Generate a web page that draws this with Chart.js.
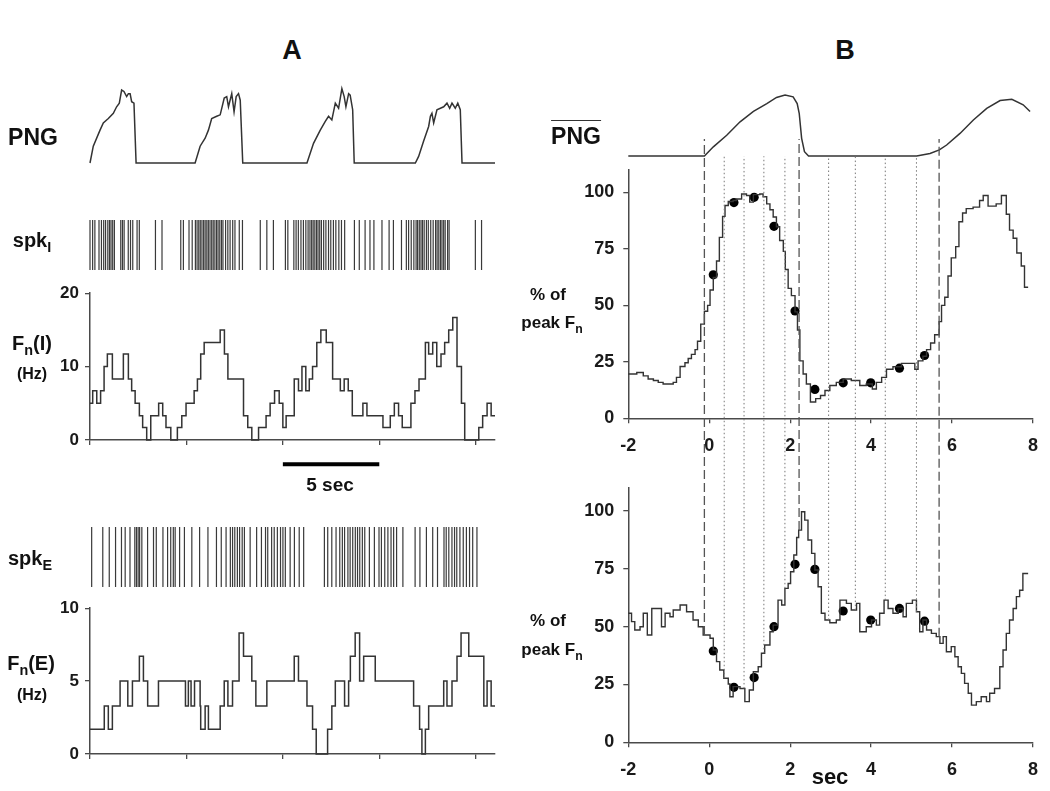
<!DOCTYPE html>
<html>
<head>
<meta charset="utf-8">
<script src="https://cdn.jsdelivr.net/npm/chart.js@4.4.1/dist/chart.umd.min.js"></script>
<style>
    body { margin: 0; background: #fff; }
    #fig { position: relative; width: 1050px; height: 791px; overflow: hidden;
           font-family: "Liberation Sans", Arial, sans-serif; font-weight: bold; color: #111; }
    canvas { position: absolute; }
    .lbl { position: absolute; white-space: nowrap; line-height: 1; transform: translate(-50%, -50%); }
    .sub { font-size: 72%; position: relative; top: 0.38em; }
    .ov { position: absolute; white-space: nowrap; line-height: 1; transform: translateX(-50%);
          border-top: 1.3px solid #333; padding-top: 4px; }
</style>
</head>
<body>
<div id="fig">
    <canvas id="aPng" width="510" height="95" style="left:0;top:80px"></canvas>
    <canvas id="aSpkI" width="510" height="80" style="left:0;top:205px"></canvas>
    <canvas id="aFnI" width="510" height="203" style="left:0;top:277px"></canvas>
    <canvas id="aSpkE" width="510" height="80" style="left:0;top:517px"></canvas>
    <canvas id="aFnE" width="510" height="192" style="left:0;top:592px"></canvas>
    <canvas id="bPng" width="510" height="76" style="left:540px;top:85px"></canvas>
    <canvas id="bUp" width="510" height="310" style="left:540px;top:150px"></canvas>
    <canvas id="bLow" width="510" height="691" style="left:540px;top:100px"></canvas>

    <div class="lbl" style="left:292px;top:50px;font-size:27px">A</div>
    <div class="lbl" style="left:845px;top:50px;font-size:27px">B</div>
    <div class="lbl" style="left:33px;top:137px;font-size:23px">PNG</div>
    <div class="lbl" style="left:32px;top:240px;font-size:20px">spk<span class="sub">I</span></div>
    <div class="lbl" style="left:32px;top:343px;font-size:20px">F<span class="sub">n</span>(I)</div>
    <div class="lbl" style="left:32px;top:374px;font-size:16px">(Hz)</div>
    <div class="lbl" style="left:330px;top:484px;font-size:19px">5 sec</div>
    <div class="lbl" style="left:30px;top:558px;font-size:20px">spk<span class="sub">E</span></div>
    <div class="lbl" style="left:31px;top:663px;font-size:20px">F<span class="sub">n</span>(E)</div>
    <div class="lbl" style="left:32px;top:695px;font-size:16px">(Hz)</div>
    <div class="ov" style="left:576px;top:120px;font-size:23px">PNG</div>
    <div class="lbl" style="left:548px;top:294px;font-size:17px">% of</div>
    <div class="lbl" style="left:552px;top:322px;font-size:17px">peak F<span class="sub">n</span></div>
    <div class="lbl" style="left:548px;top:620px;font-size:17px">% of</div>
    <div class="lbl" style="left:552px;top:649px;font-size:17px">peak F<span class="sub">n</span></div>
    <div class="lbl" style="left:830px;top:777px;font-size:22px">sec</div>
</div>

<script>
// ---- panel A: time in seconds, rates in Hz ----
const pngA_t = [0, 0.17, 0.52, 0.69, 0.95, 1.21, 1.38, 1.52, 1.64, 1.76, 1.90, 1.99, 2.08, 2.16, 2.28, 2.39,
    5.45, 5.71, 5.97, 6.14, 6.31, 6.57, 6.75, 6.96, 7.09, 7.18, 7.35, 7.47, 7.58, 7.70, 7.79, 7.92,
    11.25, 11.59, 11.94, 12.20, 12.37, 12.54, 12.72, 12.89, 13.06, 13.18, 13.27, 13.41, 13.49, 13.62, 13.70,
    16.87, 17.04, 17.30, 17.56, 17.65, 17.73, 17.82, 17.99, 18.17, 18.34, 18.51, 18.65, 18.77, 18.94, 19.07, 19.20, 19.29, 21.0];
const pngA_v = [0, 0.23, 0.45, 0.55, 0.61, 0.68, 0.77, 0.82, 1.0, 0.98, 0.91, 0.95, 0.95, 0.84, 0.82, 0,
    0, 0.23, 0.34, 0.45, 0.61, 0.64, 0.66, 0.89, 0.91, 0.77, 0.95, 0.70, 0.91, 0.95, 0.86, 0,
    0, 0.27, 0.45, 0.57, 0.64, 0.59, 0.82, 0.75, 1.02, 0.91, 0.77, 0.95, 0.93, 0.73, 0,
    0, 0.09, 0.30, 0.50, 0.64, 0.68, 0.55, 0.73, 0.75, 0.77, 0.82, 0.75, 0.82, 0.75, 0.82, 0.73, 0, 0];

const spkI_t = [0.00, 0.14, 0.26, 0.48, 0.61, 0.73, 0.83, 0.95, 1.04, 1.12, 1.21, 1.30, 1.64, 1.73, 1.82, 2.04, 2.16, 2.28, 2.51, 2.63,
    3.49, 3.84,
    4.84, 4.98, 5.28, 5.45, 5.62, 5.71, 5.80, 5.88, 5.97, 6.06, 6.14, 6.23, 6.31, 6.40, 6.49, 6.57, 6.66, 6.75, 6.83, 6.92, 7.01, 7.09,
    7.23, 7.35, 7.47, 7.61, 7.73, 7.96, 8.13,
    9.08, 9.43, 9.78,
    10.42, 10.55, 10.87, 10.99, 11.11, 11.25, 11.38, 11.51, 11.63, 11.73, 11.82, 11.90, 11.99, 12.08, 12.16, 12.25, 12.34, 12.46,
    12.58, 12.72, 12.84, 12.98, 13.11, 13.27, 13.41, 13.58,
    14.10, 14.36, 14.67, 14.93, 15.14, 15.57, 15.95, 16.18, 16.61, 16.87, 16.99, 17.13, 17.27, 17.39, 17.47, 17.56, 17.65, 17.73,
    17.82, 17.94, 18.04, 18.17, 18.30, 18.43, 18.51, 18.60, 18.69, 18.77, 18.86, 18.94, 19.07, 19.15,
    20.55, 20.88];

const spkE_t = [0.09, 0.69, 1.04, 1.38, 1.70, 1.90, 2.16, 2.42, 2.51, 2.60, 2.68, 2.80, 3.11, 3.43, 3.58, 3.94, 4.19, 4.36, 4.50, 4.60,
    4.84, 5.10, 5.50, 5.92, 6.37, 6.83, 7.09, 7.35, 7.58, 7.70, 7.82, 7.96, 8.08, 8.22, 8.34, 8.65, 9.00, 9.26, 9.48, 9.60,
    9.81, 9.95, 10.12, 10.29, 10.42, 10.55, 10.81, 11.04, 11.30, 11.54,
    12.66, 12.84, 13.06, 13.29, 13.49, 13.63, 13.75, 13.93, 14.05, 14.19, 14.33, 14.45, 14.57, 14.71, 14.84, 15.09, 15.36, 15.61,
    15.74, 15.92, 16.09, 16.26, 16.40, 16.56, 16.90, 17.56, 17.82, 18.17, 18.51, 18.77, 19.12, 19.24, 19.38, 19.55, 19.69, 19.81,
    19.98, 20.16, 20.33, 20.50, 20.67, 20.90];

const fnI_t = [0, 0.14, 0.35, 0.55, 0.73, 0.90, 1.16, 1.73, 1.99, 2.16, 2.34, 2.56, 2.73, 2.94, 3.15, 3.56, 3.77, 3.94, 4.19, 4.53,
    4.76, 4.98, 5.40, 5.57, 5.74, 5.92, 6.75, 6.97, 7.15, 7.96, 8.18, 8.39, 8.74, 9.13, 9.34, 9.57, 9.81, 10.00, 10.17, 10.59,
    10.81, 10.99, 11.19, 11.37, 11.54, 11.76, 11.97, 12.25, 12.58, 12.98, 13.18, 13.39, 13.60, 14.15, 14.36, 15.19, 15.57, 15.78,
    16.00, 16.19, 16.64, 16.85, 17.06, 17.39, 17.56, 17.77, 17.98, 18.20, 18.39, 18.60, 18.81, 19.03, 19.26, 19.43, 20.16, 20.36,
    20.59, 20.80, 21.0];
const fnI_v = [5, 6.7, 5, 6.7, 10, 11.7, 8.3, 11.7, 8.3, 6.7, 5, 3.3, 1.7, 0, 3.3, 5, 3.3, 1.7, 0, 1.7,
    3.3, 5, 6.7, 8.3, 11.7, 13.3, 15, 11.7, 8.3, 3.3, 1.7, 0, 1.7, 3.3, 5, 6.7, 5, 1.7, 3.3, 8.3,
    6.7, 10, 6.7, 8.3, 10, 13.3, 15, 13.3, 8.3, 6.7, 8.3, 6.7, 3.3, 5, 3.3, 1.7, 3.3, 5,
    3.3, 1.7, 5, 6.7, 8.3, 13.3, 11.7, 13.3, 10, 11.7, 13.3, 15, 16.7, 10, 5, 0, 1.7, 3.3,
    5, 3.3, 3.3];

const fnE_t = [0, 0.74, 0.95, 1.16, 1.56, 1.96, 2.20, 2.56, 2.77, 2.99, 3.55, 4.95, 5.10, 5.24, 5.42, 5.71, 5.74, 5.97, 6.14, 6.75,
    6.96, 7.15, 7.39, 7.73, 7.96, 8.39, 8.60, 9.17, 10.59, 10.81, 11.25, 11.54, 11.73, 12.32, 12.54, 12.72, 13.20, 13.41, 13.50,
    13.75, 13.98, 14.19, 14.79, 16.78, 17.09, 17.21, 17.39, 17.56, 18.34, 18.51, 18.77, 19.03, 19.24, 19.64, 20.42, 20.59, 20.80, 21.0];
const fnE_v = [1.7, 3.3, 1.7, 3.3, 5, 3.3, 5, 6.7, 5, 3.3, 5, 3.3, 5, 3.3, 5, 3.3, 1.7, 3.3, 1.7, 3.3,
    5, 3.3, 5, 8.3, 6.7, 5, 3.3, 5, 6.7, 5, 3.3, 1.7, 0, 1.7, 3.3, 5, 3.3, 5, 6.7,
    8.3, 5, 6.7, 5, 3.3, 1.7, 0, 1.7, 3.3, 5, 3.3, 5, 6.7, 8.3, 6.7, 3.3, 5, 3.3, 3.3];

const scaleBarSec = [10, 15];
const fnI_ticks = [0, 10, 20];
const fnE_ticks = [0, 5, 10];
const timeTicksA = [0, 5, 10, 15, 20];

// ---- panel B: sec from onset, % of peak ----
const pngB_t = [-2, -0.12, 0.10, 0.43, 0.76, 1.09, 1.42, 1.66, 1.87, 2.07, 2.17, 2.22, 2.28, 2.35, 2.45,
    5.12, 5.45, 5.68, 5.86, 6.19, 6.52, 6.85, 7.18, 7.47, 7.75, 7.92];
const pngB_v = [0, 0, 0.15, 0.34, 0.56, 0.73, 0.86, 0.96, 1.0, 0.97, 0.86, 0.70, 0.29, 0.07, 0,
    0, 0.04, 0.10, 0.18, 0.37, 0.59, 0.78, 0.91, 0.93, 0.84, 0.73];

const pctI_t = [-2.00, -1.79, -1.63, -1.51, -1.38, -1.26, -1.14, -0.89, -0.81, -0.72, -0.60, -0.52, -0.44, -0.35, -0.29,
    -0.21, -0.12, -0.04, 0.02, 0.10, 0.18, 0.25, 0.33, 0.39, 0.47, 0.59, 0.67, 0.80, 0.92, 1.00, 1.09, 1.25, 1.33, 1.42, 1.50,
    1.58, 1.66, 1.74, 1.83, 1.88, 1.95, 2.03, 2.12, 2.18, 2.24, 2.32, 2.40, 2.50, 2.63, 2.75, 2.86, 2.98, 3.14, 3.31, 3.51,
    3.72, 3.88, 4.03, 4.13, 4.26, 4.38, 4.54, 4.75, 4.95, 5.08, 5.16, 5.28, 5.37, 5.47, 5.57, 5.68, 5.74, 5.82, 5.90, 5.98,
    6.09, 6.17, 6.26, 6.35, 6.52, 6.68, 6.77, 6.89, 7.09, 7.22, 7.34, 7.42, 7.51, 7.60, 7.71, 7.79, 7.88];
const pctI_v = [19.6, 20.3, 18.8, 17.4, 16.7, 15.9, 15.2, 15.9, 18.1, 22.9, 24.6, 26.5, 28.3, 30.4, 34.1,
    41.7, 47.4, 50, 56.8, 62.3, 69.6, 80.1, 89.4, 94.2, 96, 96.4, 97.1, 99.3, 98.6, 95.7, 99, 99.3, 98.1, 94.9, 92.3,
    89.1, 84.8, 78.7, 73.9, 65.9, 57.5, 54.3, 47.1, 39.1, 25.4, 19.6, 15.2, 7.2, 8.7, 10.1, 12.3, 14.5, 15.9, 17.4, 16.7,
    14.5, 15.2, 13.0, 15.9, 18.1, 21.7, 22.8, 24.3, 24.3, 21.7, 25.4, 27.5, 30.4, 33.3, 37, 42.8, 50, 53.6, 63, 71,
    76, 87, 90.9, 92.8, 93.5, 96.4, 98.6, 93.9, 94.9, 98.6, 90.3, 83.3, 79.7, 73.2, 67.4, 58, 58];

const pctE_t = [-2.00, -1.92, -1.84, -1.71, -1.63, -1.53, -1.42, -1.30, -1.18, -1.09, -0.97, -0.89, -0.72, -0.56, -0.40,
    -0.27, -0.15, 0.02, 0.10, 0.18, 0.26, 0.36, 0.47, 0.51, 0.59, 0.76, 0.88, 0.99, 1.09, 1.21, 1.29, 1.37, 1.50, 1.58, 1.70,
    1.79, 1.87, 1.95, 2.01, 2.09, 2.16, 2.21, 2.28, 2.36, 2.44, 2.53, 2.61, 2.69, 2.77, 2.86, 2.98, 3.14, 3.23, 3.39, 3.51,
    3.64, 3.72, 3.88, 4.01, 4.13, 4.21, 4.32, 4.42, 4.54, 4.67, 4.79, 4.87, 5.02, 5.12, 5.20, 5.28, 5.37, 5.49, 5.61, 5.70,
    5.78, 5.86, 5.98, 6.07, 6.15, 6.23, 6.31, 6.40, 6.48, 6.60, 6.72, 6.85, 6.93, 7.05, 7.18, 7.26, 7.34, 7.42, 7.51, 7.59,
    7.67, 7.75, 7.88];
const pctE_v = [55.8, 52.2, 48.6, 50, 55.8, 46.4, 57.9, 57.9, 50, 55.8, 54.3, 57.2, 59.4, 56.5, 52.9,
    50, 46.4, 45, 39.9, 34.9, 31.3, 27.7, 25.2, 19.7, 24.1, 23.3, 17.6, 22.6, 30.5, 32.7, 38.5, 42.1, 47.8, 50.7, 61.5,
    59.4, 66.6, 68.7, 73.8, 81, 88.6, 91.8, 99.7, 96.1, 87.5, 81.7, 74.5, 67.3, 55.8, 52.9, 51.7, 52.9, 61.5, 60.1, 57.2,
    60.1, 47.8, 50, 52.9, 50.7, 55.8, 61.5, 57.9, 55.8, 57.9, 54.3, 60.1, 61.5, 56.5, 47.8, 52.9, 48.6, 47.1, 45.7, 42.8,
    45.7, 39.2, 41.4, 37, 32.7, 29.8, 25.5, 21.2, 16.1, 17.6, 19.7, 17.6, 21.2, 23.3, 32.7, 39.9, 47.1, 52.9, 57.9, 63,
    65.8, 73, 73];

const dot_t = [0.10, 0.61, 1.11, 1.60, 2.12, 2.61, 3.31, 3.99, 4.70, 5.32];
const dotI_v = [63.5, 95.5, 97.8, 85, 47.5, 12.8, 15.7, 15.7, 22.2, 27.8];
const dotE_v = [39.5, 23.8, 28, 50, 77, 74.8, 56.8, 52.9, 57.9, 52.4];

const dashLine_t = [-0.12, 2.22, 5.68];
const dotLine_t = [0.37, 0.86, 1.35, 1.87, 2.95, 3.61, 4.35, 5.12];

const timeTicksB = [-2, 0, 2, 4, 6, 8];
const pctTicks = [0, 25, 50, 75, 100];

// ---- styles ----
const INK = '#333';
const AXIS = '#4a4a4a';
const FONT = "'Liberation Sans', Arial, sans-serif";
const LINE_TOP_DOT = 253.5;   // in lower-B % units, up to the PNG baseline
const LINE_TOP_DASH = 261;

function pts(ts, vs) { return ts.map((t, i) => ({ x: t, y: vs[i] })); }

function stepAt(ts, vs, t) {
    let v = vs[0];
    for (let i = 0; i < ts.length; i++) { if (ts[i] <= t) v = vs[i]; }
    return v;
}

function hidden(min, max) { return { type: 'linear', display: false, min: min, max: max }; }

function axisX(min, max, ticks, h, size, pad, showLabels) {
    return {
        type: 'linear', min: min, max: max,
        afterFit: s => { s.height = h; },
        afterBuildTicks: s => { s.ticks = ticks.map(v => ({ value: v })); },
        border: { display: true, color: AXIS, width: 1.5 },
        grid: { drawOnChartArea: false, drawTicks: true, tickLength: 5, color: AXIS, lineWidth: 1.3 },
        ticks: {
            autoSkip: false, maxRotation: 0, padding: pad, color: '#1a1a1a',
            font: { family: FONT, size: size, weight: 'bold' },
            callback: v => showLabels ? String(v) : ''
        }
    };
}

function axisY(min, max, ticks, w, size, pad) {
    return {
        type: 'linear', min: min, max: max,
        afterFit: s => { s.width = w; },
        afterBuildTicks: s => { s.ticks = ticks.map(v => ({ value: v })); },
        border: { display: true, color: AXIS, width: 1.5 },
        grid: { drawOnChartArea: false, drawTicks: true, tickLength: 5, color: AXIS, lineWidth: 1.3 },
        ticks: { padding: pad, color: '#1a1a1a', font: { family: FONT, size: size, weight: 'bold' } }
    };
}

function trace(data, stepped, width) {
    return { data: data, stepped: stepped, borderColor: INK, borderWidth: width, pointRadius: 0,
             fill: false, tension: 0, clip: false };
}

function spikes(ts, radius) {
    return { data: ts.map(t => ({ x: t, y: 0 })), showLine: false, pointStyle: 'line', pointRotation: 90,
             pointRadius: radius, pointBorderColor: '#3a3a3a', pointBorderWidth: 1.2, clip: false };
}

function dots(ts, vs) {
    return { data: pts(ts, vs), showLine: false, pointRadius: 4.6, pointBackgroundColor: '#000',
             pointBorderColor: '#000', pointBorderWidth: 0, clip: false };
}

function make(id, datasets, xs, ys, pad) {
    return new Chart(document.getElementById(id), {
        type: 'line',
        data: { datasets: datasets },
        options: {
            responsive: false, animation: false, events: [],
            layout: { padding: pad },
            plugins: { legend: { display: false }, tooltip: { enabled: false } },
            scales: { x: xs, y: ys }
        }
    });
}

// panel A
make('aPng', [trace(pts(pngA_t, pngA_v), false, 1.5)], hidden(0, 21), hidden(0, 1),
     { left: 90, right: 15, top: 10, bottom: 12 });
make('aSpkI', [spikes(spkI_t, 25)], hidden(0, 21), hidden(-1, 1),
     { left: 90, right: 15, top: 0, bottom: 0 });
make('aFnI', [
        trace(pts(fnI_t, fnI_v), true, 1.5),
        { data: scaleBarSec.map(t => ({ x: t, y: -3.3 })), borderColor: '#000', borderWidth: 4,
          pointRadius: 0, clip: false }
     ],
     axisX(0, 21, timeTicksA, 40, 16, 4, false), axisY(0, 20, fnI_ticks, 90, 17, 6),
     { left: 0, right: 15, top: 10, bottom: 0 });
make('aSpkE', [spikes(spkE_t, 30)], hidden(0, 21), hidden(-1, 1),
     { left: 90, right: 15, top: 0, bottom: 0 });
make('aFnE', [trace(pts(fnE_t, fnE_v), true, 1.5)],
     axisX(0, 21, timeTicksA, 30, 16, 4, false), axisY(0, 10, fnE_ticks, 90, 17, 6),
     { left: 0, right: 15, top: 10, bottom: 0 });

// panel B
make('bPng', [trace(pts(pngB_t, pngB_v), false, 1.5)], hidden(-2, 8), hidden(0, 1),
     { left: 88.3, right: 16.7, top: 10, bottom: 5 });
make('bUp', [trace(pts(pctI_t, pctI_v), true, 1.4), dots(dot_t, dotI_v)],
     axisX(-2, 8, timeTicksB, 41.7, 18, 12, true), axisY(0, 110, pctTicks, 88.3, 18, 9),
     { left: 0, right: 16.7, top: 15.3, bottom: 0 });

const guideSets = [];
dashLine_t.forEach(t => guideSets.push({
    data: [{ x: t, y: stepAt(pctE_t, pctE_v, t) }, { x: t, y: LINE_TOP_DASH }],
    borderColor: '#555', borderWidth: 1.3, borderDash: [9, 4], pointRadius: 0, clip: false
}));
dotLine_t.forEach(t => guideSets.push({
    data: [{ x: t, y: stepAt(pctE_t, pctE_v, t) }, { x: t, y: LINE_TOP_DOT }],
    borderColor: '#777', borderWidth: 1, borderDash: [1.5, 2.5], pointRadius: 0, clip: false
}));

make('bLow', guideSets.concat([trace(pts(pctE_t, pctE_v), true, 1.4), dots(dot_t, dotE_v)]),
     axisX(-2, 8, timeTicksB, 48.7, 18, 12, true), axisY(0, 110, pctTicks, 88.3, 18, 9),
     { left: 0, right: 16.7, top: 388, bottom: 0 });
</script>
</body>
</html>
